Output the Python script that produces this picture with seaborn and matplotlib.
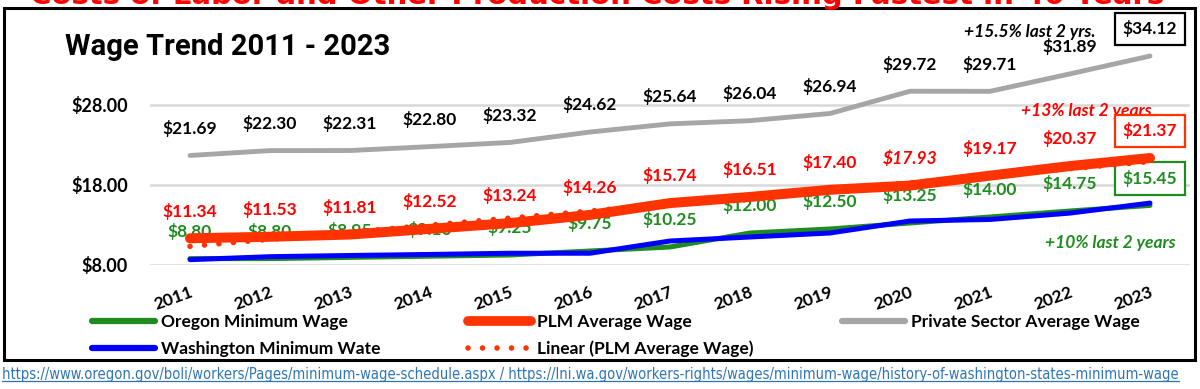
import numpy as np
import pandas as pd
import matplotlib
matplotlib.use('Agg')
import matplotlib.pyplot as plt
import seaborn as sns
from matplotlib.patches import Rectangle
from matplotlib.lines import Line2D

# 데이터
years = ['2011', '2012', '2013', '2014', '2015', '2016', '2017',
         '2018', '2019', '2020', '2021', '2022', '2023']
oregon_min = [8.80, 8.80, 8.95, 9.10, 9.25, 9.75, 10.25,
              12.00, 12.50, 13.25, 14.00, 14.75, 15.45]
washington_min = [8.67, 9.04, 9.19, 9.32, 9.47, 9.47, 11.00,
                  11.50, 12.00, 13.50, 13.69, 14.49, 15.74]
plm_avg = [11.34, 11.53, 11.81, 12.52, 13.24, 14.26, 15.74,
           16.51, 17.40, 17.93, 19.17, 20.37, 21.37]
private_avg = [21.69, 22.30, 22.31, 22.80, 23.32, 24.62, 25.64,
               26.04, 26.94, 29.72, 29.71, 31.89, 34.12]
y_ticks = [8, 18, 28]

GREEN = '#1E8C1E'
BLUE = '#0000FF'
RED_LINE = '#FF3300'
RED_TEXT = '#FF0000'
GRAY = '#A6A6A6'
FONT = ['Lato', 'DejaVu Sans']

sns.set_theme(style='white')
plt.rcParams['font.family'] = FONT
plt.rcParams['text.color'] = 'black'
plt.rcParams['xtick.color'] = 'black'
plt.rcParams['ytick.color'] = 'black'

df = pd.DataFrame({'idx': np.arange(len(years)), 'oregon': oregon_min,
                   'washington': washington_min, 'plm': plm_avg,
                   'private': private_avg})

fig = plt.figure(figsize=(12, 3.89), dpi=100)
ax = fig.add_axes([150 / 1200, 1 - 265 / 389, 1040 / 1200, 240 / 389])

# 선 그리기
sns.lineplot(data=df, x='idx', y='private', color=GRAY, lw=3.5, ax=ax,
             legend=False, zorder=2)
sns.lineplot(data=df, x='idx', y='oregon', color=GREEN, lw=3.6, ax=ax,
             legend=False, zorder=3)
sns.lineplot(data=df, x='idx', y='washington', color=BLUE, lw=3.6, ax=ax,
             legend=False, zorder=4)
sns.lineplot(data=df, x='idx', y='plm', color=RED_LINE, lw=7.2, ax=ax,
             legend=False, zorder=5, solid_capstyle='round')
dot_style = (0, (0.01, 2.6))
sns.regplot(data=df, x='idx', y='plm', scatter=False, ci=None, ax=ax,
            color=RED_LINE,
            line_kws=dict(lw=4, linestyle=dot_style, dash_capstyle='round',
                          zorder=6))

# 데이터 레이블
def put_labels(values, color, z, boxed_ec=None, italic_idx=()):
    for i, v in enumerate(values):
        kw = dict(xytext=(0, 19.5), textcoords='offset points', ha='center',
                  va='center', fontsize=12.5, fontweight='bold', color=color,
                  zorder=z)
        if i in italic_idx:
            kw['fontstyle'] = 'italic'
        if boxed_ec and i == len(values) - 1:
            kw['bbox'] = dict(boxstyle='square,pad=0.45', fc='white',
                              ec=boxed_ec, lw=1.6)
        ax.annotate(f'${v:.2f}', (i, v), **kw)

put_labels(private_avg, 'black', 10, boxed_ec='black')
put_labels(plm_avg, RED_TEXT, 10, boxed_ec=RED_LINE, italic_idx=(9,))
put_labels(oregon_min, GREEN, 4.5, boxed_ec=GREEN)

ax.text(10.5, 37.1, '+15.5% last 2 yrs.', ha='center', va='center',
        fontsize=12.5, fontweight='bold', fontstyle='italic', color='black')
ax.text(11.2, 27.3, '+13% last 2 years', ha='center', va='center',
        fontsize=12.5, fontweight='bold', fontstyle='italic', color=RED_TEXT)
ax.text(11.5, 10.8, '+10% last 2 years', ha='center', va='center',
        fontsize=12.5, fontweight='bold', fontstyle='italic', color=GREEN)

# 축 설정
ax.set_xlim(-0.5, len(years) - 0.5)
ax.set_ylim(8, 38)
ax.set_yticks(y_ticks)
ax.set_yticklabels([f'${t:.2f}' for t in y_ticks], fontsize=13,
                   fontweight='bold')
ax.set_xticks(range(len(years)))
ax.set_xticklabels(years, rotation=20, ha='right', rotation_mode='anchor',
                   fontsize=12.5, fontweight='bold')
ax.tick_params(axis='both', length=0, colors='black')
ax.tick_params(axis='x', pad=14)
ax.tick_params(axis='y', pad=16)
ax.set_xlabel('')
ax.set_ylabel('')
ax.grid(axis='y', color='#D9D9D9', lw=1.8)
ax.set_axisbelow(True)
for s in ax.spines.values():
    s.set_visible(False)

# 범례
leg_kw = dict(loc='upper left', frameon=False, borderpad=0, borderaxespad=0,
              handlelength=3.6, handletextpad=0.4, labelspacing=0.62,
              prop=dict(family=FONT, size=12.5, weight='bold'))
h_or = Line2D([], [], color=GREEN, lw=4.5, solid_capstyle='round')
h_wa = Line2D([], [], color=BLUE, lw=4.5, solid_capstyle='round')
h_plm = Line2D([], [], color=RED_LINE, lw=7, solid_capstyle='round')
h_lin = Line2D([], [], color=RED_LINE, lw=4, linestyle=dot_style,
               dash_capstyle='round')
h_pr = Line2D([], [], color=GRAY, lw=4.5, solid_capstyle='round')
fig.legend([h_or, h_wa], ['Oregon Minimum Wage', 'Washington Minimum Wate'],
           bbox_to_anchor=(92 / 1200, 1 - 314 / 389), **leg_kw)
fig.legend([h_plm, h_lin], ['PLM Average Wage', 'Linear (PLM Average Wage)'],
           bbox_to_anchor=(468 / 1200, 1 - 314 / 389), **leg_kw)
fig.legend([h_pr], ['Private Sector Average Wage'],
           bbox_to_anchor=(842 / 1200, 1 - 314 / 389), **leg_kw)

# 제목 및 테두리
fig.text(228 / 1200, 1 - 47 / 389, 'Wage Trend 2011 - 2023', ha='center',
         va='center', fontsize=21, fontweight='bold',
         family=['Roboto', 'DejaVu Sans'], color='black')
fig.text(597 / 1200, 1 - 4 / 389,
         'Costs of Labor and Other Production Costs Rising Fastest in 40 Years',
         ha='center', va='baseline', fontsize=21, fontweight='bold',
         color=RED_TEXT, family='DejaVu Sans')
fig.add_artist(Rectangle((4 / 1200, 1 - 360 / 389), 1191 / 1200, 352 / 389,
                         transform=fig.transFigure, fill=False, ec='black',
                         lw=2.2))

url = ('https://www.oregon.gov/boli/workers/Pages/minimum-wage-schedule.aspx'
       ' / https://lni.wa.gov/workers-rights/wages/minimum-wage/'
       'history-of-washington-states-minimum-wage')
url_text = fig.text(2 / 1200, 1 - 375 / 389, url, ha='left', va='center',
                    fontsize=10.5, color='#2F75B5', fontstretch='condensed',
                    family='DejaVu Sans')
fig.canvas.draw()
bb = url_text.get_window_extent().transformed(fig.transFigure.inverted())
fig.add_artist(Line2D([bb.x0, bb.x1], [bb.y0 + 0.004, bb.y0 + 0.004],
                      transform=fig.transFigure, color='#2F75B5', lw=0.9))

fig.savefig('out.png', dpi=100)
